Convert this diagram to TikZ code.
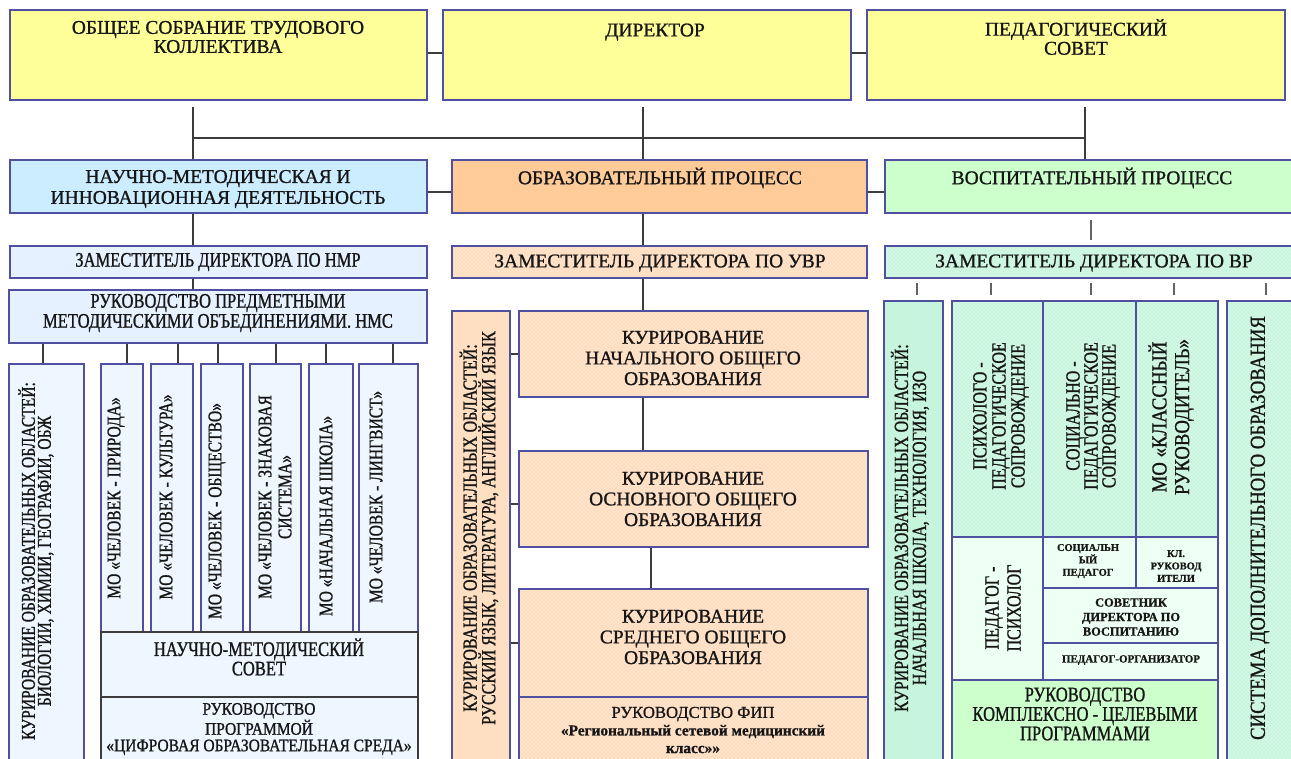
\documentclass[tikz,border=0pt]{standalone}
\usepackage{fontspec}
\setmainfont{Liberation Serif}[FakeBold=1.0,BoldFont={Liberation Serif Bold}]
\newfontfamily\nar[FakeStretch=0.8,FakeBold=1.0]{Liberation Serif}
\newfontfamily\narb[FakeStretch=0.88,FakeBold=1.0]{Liberation Serif}
\usetikzlibrary{patterns,fit}
\definecolor{bord}{HTML}{5050A0}
\definecolor{conn}{HTML}{3C3C3C}
\definecolor{yel}{HTML}{FFFF99}
\definecolor{nmd}{HTML}{CCECFF}
\definecolor{opc}{HTML}{FFCC99}
\definecolor{vpc}{HTML}{CCFFCC}
\definecolor{bpat}{HTML}{E2F0FF}
\definecolor{bpatl}{HTML}{EDF5FF}
\definecolor{opat}{HTML}{FFDCBE}
\definecolor{gpat}{HTML}{C8F5DE}
\definecolor{bsol}{HTML}{EEF6FF}
\definecolor{osol}{HTML}{FFDFC2}
\definecolor{gsol}{HTML}{C6F4DC}
\definecolor{gpale}{HTML}{EEFFF4}
\definecolor{txtc}{HTML}{161616}
\tikzset{
  bx/.style={draw=bord, line width=1.4pt, inner sep=0pt},
  bxt/.style={draw=bord, line width=1pt, inner sep=0pt},
  bxg/.style={draw=conn, line width=1.2pt, inner sep=0pt},
  pb/.style={preaction={fill=bpat}, pattern=crosshatch dots, pattern color=white},
  pbl/.style={preaction={fill=bpatl}, pattern=crosshatch dots, pattern color=white},
  po/.style={preaction={fill=opat}, pattern=crosshatch dots, pattern color=white},
  pg/.style={preaction={fill=gpat}, pattern=crosshatch dots, pattern color=white},
  cn/.style={draw=conn, line width=1.5pt},
  tk/.style={draw=conn!80, line width=1.1pt},
  tx/.style={align=center, inner sep=0pt, text=txtc, font=\fontsize{14.6}{15.5}\selectfont},
  tr/.style={rotate=90, align=center, inner sep=0pt, text=txtc},
}
\begin{document}
\begin{tikzpicture}[x=0.75pt,y=-0.75pt]
\useasboundingbox (0,0) rectangle (1291,758);
\fill[white] (0,0) rectangle (1291,758);
\clip (0,0) rectangle (1291,758);

% ---------- row 1
\node[bx, fill=yel, fit={(10,10)(427,100)}] (A) {};
\node[tx, font=\fontsize{14.6}{14.3}\selectfont] (At) at (218,37) {ОБЩЕЕ СОБРАНИЕ ТРУДОВОГО\\КОЛЛЕКТИВА};
\node[bx, fill=yel, fit={(443,10)(851,100)}] (B) {};
\node[tx] (Bt) at (655,32) {ДИРЕКТОР};
\node[bx, fill=yel, fit={(867,10)(1285,100)}] (C) {};
\node[tx, font=\fontsize{14.6}{14.3}\selectfont] (Ct) at (1076,37) {ПЕДАГОГИЧЕСКИЙ\\СОВЕТ};
\draw[cn] ([yshift=1.5pt]A.east) -- ([yshift=1.5pt]B.west);
\draw[cn] ([yshift=1.5pt]B.east) -- ([yshift=1.5pt]C.west);

% ---------- row 2
\node[bx, fill=nmd, fit={(10,160)(427,213)}] (NMD) {};
\node[tx, font=\fontsize{14.6}{15.7}\selectfont] (NMDt) at (218,189) {НАУЧНО-МЕТОДИЧЕСКАЯ И\\ИННОВАЦИОННАЯ ДЕЯТЕЛЬНОСТЬ};
\node[bx, fill=opc, fit={(452,160)(867,213)}] (OP) {};
\node[tx] (OPt) at (660,178) {ОБРАЗОВАТЕЛЬНЫЙ ПРОЦЕСС};
\node[bx, fill=vpc, fit={(885,160)(1300,213)}] (VP) {};
\node[tx] (VPt) at (1092,178) {ВОСПИТАТЕЛЬНЫЙ ПРОЦЕСС};
\draw[cn] ([yshift=-4pt]NMD.east) -- ([yshift=-4pt]OP.west);
\draw[cn] ([yshift=-4pt]OP.east) -- ([yshift=-4pt]VP.west);

% bus
\coordinate (bA) at (193,107);
\coordinate (bB) at (643,107);
\coordinate (bC) at (1085,107);
\coordinate (busL) at (193,138);
\coordinate (busR) at (1085,138);
\draw[cn] (bA) -- (bA |- NMD.north);
\draw[cn] (bB) -- (bB |- OP.north);
\draw[cn] (bC) -- (bC |- VP.north);
\draw[cn] (busL) -- (busR);

% ---------- row 3
\node[bx, pb, fit={(10,246)(427,278)}] (ZNMR) {};
\node[tx, font=\nar\fontsize{15.5}{15.5}\selectfont] (ZNMRt) at (218,262) {ЗАМЕСТИТЕЛЬ ДИРЕКТОРА ПО НМР};
\node[bx, po, fit={(452,246)(867,278)}] (ZUVR) {};
\node[tx] (ZUVRt) at (660,263) {ЗАМЕСТИТЕЛЬ ДИРЕКТОРА ПО УВР};
\node[bx, pg, fit={(885,246)(1300,278)}] (ZVR) {};
\node[tx] (ZVRt) at (1094,263) {ЗАМЕСТИТЕЛЬ ДИРЕКТОРА ПО ВР};
\draw[cn] (bA |- NMD.south) -- (bA |- ZNMR.north);
\draw[cn] (bB |- OP.south) -- (bB |- ZUVR.north);
\coordinate (vt1) at (1091,220);
\coordinate (vt2) at (1091,240);
\draw[tk] (vt1) -- (vt2);

% ---------- left column
\node[bx, pb, fit={(9,290)(427,343)}] (RP) {};
\node[tx, font=\nar\fontsize{15.5}{15}\selectfont] (RPt) at (218,313) {РУКОВОДСТВО ПРЕДМЕТНЫМИ\\МЕТОДИЧЕСКИМИ ОБЪЕДИНЕНИЯМИ. НМС};
\draw[cn] (bA |- ZNMR.south) -- (bA |- RP.north);

\node[bx, fill=bsol, fit={(9,364)(84,775)}] (KurL) {};
\node[tr, font=\nar\fontsize{14.6}{12}\selectfont] (KurLt) at (36,561) {КУРИРОВАНИЕ ОБРАЗОВАТЕЛЬНЫХ ОБЛАСТЕЙ:\\БИОЛОГИИ, ХИМИИ, ГЕОГРАФИИ, ОБЖ};

\node[bx, pbl, fit={(101,364)(143,632)}] (MO1) {};
\node[tr, font=\nar\fontsize{14.6}{12}\selectfont] (MO1t) at (116,498) {МО «ЧЕЛОВЕК - ПРИРОДА»};
\node[bx, pbl, fit={(151,364)(193,632)}] (MO2) {};
\node[tr, font=\nar\fontsize{14.6}{12}\selectfont] (MO2t) at (166,497) {МО «ЧЕЛОВЕК - КУЛЬТУРА»};
\node[bx, pbl, fit={(201,364)(243,632)}] (MO3) {};
\node[tr, font=\nar\fontsize{14.6}{12}\selectfont] (MO3t) at (217,511) {МО «ЧЕЛОВЕК - ОБЩЕСТВО»};
\node[bx, pbl, fit={(250,364)(301,632)}] (MO4) {};
\node[tr, font=\nar\fontsize{14.6}{15}\selectfont] (MO4t) at (275,497) {МО «ЧЕЛОВЕК - ЗНАКОВАЯ\\СИСТЕМА»};
\node[bx, pbl, fit={(309,364)(353,632)}] (MO5) {};
\node[tr, font=\nar\fontsize{14.6}{12}\selectfont] (MO5t) at (326,516) {МО «НАЧАЛЬНАЯ ШКОЛА»};
\node[bx, pbl, fit={(359,364)(418,632)}] (MO6) {};
\node[tr, font=\nar\fontsize{14.6}{12}\selectfont] (MO6t) at (376,497) {МО «ЧЕЛОВЕК - ЛИНГВИСТ»};

\coordinate (m0) at (43,354);
\coordinate (m1) at (127,354);
\coordinate (m2) at (178,354);
\coordinate (m3) at (218,354);
\coordinate (m4) at (276,354);
\coordinate (m5) at (326,354);
\coordinate (m6) at (393,354);
\draw[cn] (m0 |- RP.south) -- (m0 |- KurL.north);
\draw[cn] (m1 |- RP.south) -- (m1 |- MO1.north);
\draw[cn] (m2 |- RP.south) -- (m2 |- MO2.north);
\draw[cn] (m3 |- RP.south) -- (m3 |- MO3.north);
\draw[cn] (m4 |- RP.south) -- (m4 |- MO4.north);
\draw[cn] (m5 |- RP.south) -- (m5 |- MO5.north);
\draw[cn] (m6 |- RP.south) -- (m6 |- MO6.north);

\node[bxg, fill=bsol, fit={(101,632)(418,697)}] (NMS) {};
\node[tx, font=\nar\fontsize{15.5}{13.5}\selectfont] (NMSt) at (259,657) {НАУЧНО-МЕТОДИЧЕСКИЙ\\СОВЕТ};
\node[bxg, fill=bsol, fit={(101,697)(418,775)}] (RPR) {};
\node[tx, font=\narb\fontsize{13.2}{12.4}\selectfont] (RPRt) at (259,729) {РУКОВОДСТВО\\ПРОГРАММОЙ\\«ЦИФРОВАЯ ОБРАЗОВАТЕЛЬНАЯ СРЕДА»};

% ---------- centre column
\node[bx, fill=osol, fit={(452,311)(510,775)}] (KurC) {};
\node[tr, font=\nar\fontsize{15}{12.8}\selectfont] (KurCt) at (479,528) {КУРИРОВАНИЕ ОБРАЗОВАТЕЛЬНЫХ ОБЛАСТЕЙ:\\РУССКИЙ ЯЗЫК, ЛИТЕРАТУРА, АНГЛИЙСКИЙ ЯЗЫК};
\node[bx, po, fit={(519,311)(868,397)}] (NOO) {};
\node[tx] (NOOt) at (693,358) {КУРИРОВАНИЕ\\НАЧАЛЬНОГО ОБЩЕГО\\ОБРАЗОВАНИЯ};
\node[bx, po, fit={(519,451)(868,547)}] (OOO) {};
\node[tx] (OOOt) at (693,499) {КУРИРОВАНИЕ\\ОСНОВНОГО ОБЩЕГО\\ОБРАЗОВАНИЯ};
\node[bx, po, fit={(519,589)(868,697)}] (SOO) {};
\node[tx] (SOOt) at (693,637) {КУРИРОВАНИЕ\\СРЕДНЕГО ОБЩЕГО\\ОБРАЗОВАНИЯ};
\node[bx, po, fit={(519,697)(868,775)}] (FIP) {};
\node[tx, font=\fontsize{12.5}{13.2}\selectfont] (FIPt) at (693,730) {РУКОВОДСТВО ФИП\\{\bfseries\fontsize{11.5}{13.2}\selectfont «Региональный сетевой медицинский}\\{\bfseries\fontsize{11.5}{13.2}\selectfont класс»»}};
\draw[cn] (bB |- ZUVR.south) -- (bB |- NOO.north);
\draw[cn] (bB |- NOO.south) -- (bB |- OOO.north);
\coordinate (c2) at (651,560);
\draw[cn] (c2 |- OOO.south) -- (c2 |- SOO.north);
\draw[cn] (KurC.east |- NOO.west) -- (NOO.west);
\draw[cn] ([yshift=-4pt]KurC.east |- OOO.west) -- ([yshift=-4pt]OOO.west);
\draw[cn] (KurC.east |- SOO.west) -- (SOO.west);

% ---------- right column
\node[bx, fill=gsol, fit={(884,301)(943,775)}] (KurR) {};
\node[tr, font=\nar\fontsize{15}{13.5}\selectfont] (KurRt) at (910,528) {КУРИРОВАНИЕ ОБРАЗОВАТЕЛЬНЫХ ОБЛАСТЕЙ:\\НАЧАЛЬНАЯ ШКОЛА, ТЕХНОЛОГИЯ, ИЗО};

\node[bxt, pg, fit={(952,301)(1043,537)}] (PS) {};
\node[tr, font=\nar\fontsize{15}{14.3}\selectfont] (PSt) at (1001,416) {ПСИХОЛОГО -\\ПЕДАГОГИЧЕСКОЕ\\СОПРОВОЖДЕНИЕ};
\node[bxt, pg, fit={(1043,301)(1136,537)}] (SP) {};
\node[tr, font=\nar\fontsize{15}{13.5}\selectfont] (SPt) at (1093,416) {СОЦИАЛЬНО -\\ПЕДАГОГИЧЕСКОЕ\\СОПРОВОЖДЕНИЕ};
\node[bxt, pg, fit={(1136,301)(1218,537)}] (KR) {};
\node[tr, font=\narb\fontsize{16}{17}\selectfont] (KRt) at (1171,417) {МО «КЛАССНЫЙ\\РУКОВОДИТЕЛЬ»};
\node[bxt, fill=gpale, fit={(952,537)(1043,680)}] (PP) {};
\node[tr, font=\nar\fontsize{15}{16.5}\selectfont] (PPt) at (1003,608) {ПЕДАГОГ -\\ПСИХОЛОГ};
\node[bxt, fill=gpale, fit={(1043,537)(1136,588)}] (SPed) {};
\node[tx, font=\bfseries\fontsize{7.8}{9.3}\selectfont] (SPedt) at (1088,561) {СОЦИАЛЬН\\ЫЙ\\ПЕДАГОГ};
\node[bxt, fill=gpale, fit={(1136,537)(1218,588)}] (KlR) {};
\node[tx, font=\bfseries\fontsize{7.8}{9.3}\selectfont] (KlRt) at (1176,566) {КЛ.\\РУКОВОД\\ИТЕЛИ};
\node[bxt, fill=gpale, fit={(1043,588)(1218,643)}] (Sov) {};
\node[tx, font=\bfseries\fontsize{9.3}{10.9}\selectfont] (Sovt) at (1131,617) {СОВЕТНИК\\ДИРЕКТОРА ПО\\ВОСПИТАНИЮ};
\node[bxt, fill=gpale, fit={(1043,643)(1218,680)}] (PO) {};
\node[tx, font=\bfseries\fontsize{8.2}{9}\selectfont] (POt) at (1131,660) {ПЕДАГОГ-ОРГАНИЗАТОР};
\node[bxt, fill=vpc, fit={(952,680)(1218,775)}] (KCP) {};
\node[tx, font=\nar\fontsize{15.5}{14.6}\selectfont] (KCPt) at (1085,714) {РУКОВОДСТВО\\КОМПЛЕКСНО - ЦЕЛЕВЫМИ\\ПРОГРАММАМИ};
% outer frame of the block
\node[bx, fit={(952,301)(1218,775)}] (BLK) {};
\node[bx, pg, fit={(1227,301)(1300,775)}] (Sis) {};
\node[tr, font=\narb\fontsize{16}{16}\selectfont] (Sist) at (1260,528) {СИСТЕМА ДОПОЛНИТЕЛЬНОГО ОБРАЗОВАНИЯ};

% ticks under ZVR
\coordinate (k1) at (917,283); \coordinate (k1b) at (917,295);
\coordinate (k2) at (991,283); \coordinate (k2b) at (991,295);
\coordinate (k3) at (1091,283); \coordinate (k3b) at (1091,295);
\coordinate (k4) at (1174,283); \coordinate (k4b) at (1174,295);
\coordinate (k5) at (1266,283); \coordinate (k5b) at (1266,295);
\draw[tk] (k1) -- (k1b);
\draw[tk] (k2) -- (k2b);
\draw[tk] (k3) -- (k3b);
\draw[tk] (k4) -- (k4b);
\draw[tk] (k5) -- (k5b);
\end{tikzpicture}
\end{document}
